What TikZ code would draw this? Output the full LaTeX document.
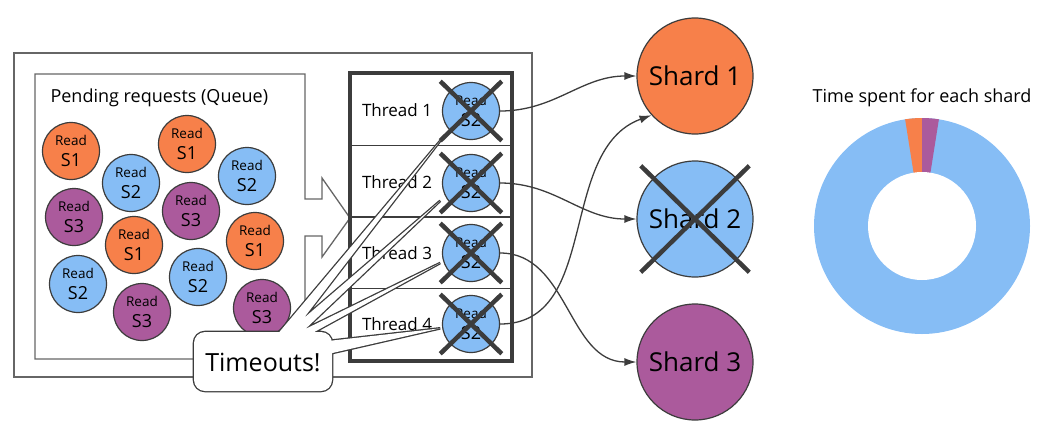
\documentclass[tikz,border=0pt]{standalone}
\usepackage{fontspec}
\setmainfont{Open Sans}
\usetikzlibrary{arrows.meta}
\usetikzlibrary{shapes.misc}
\usetikzlibrary{positioning}

\definecolor{sorange}{HTML}{F7804A}
\definecolor{sblue}{HTML}{86BDF5}
\definecolor{spurple}{HTML}{AB5A9C}
\definecolor{lgray}{HTML}{3C3C3C}
\definecolor{bgray}{HTML}{666666}

\begin{document}
\begin{tikzpicture}[x=1pt,y=1pt]
	\useasboundingbox (0,0) rectangle (1049,-432);
	
	\tikzstyle{boxline} = [draw=bgray,line width=1.3pt]
	\tikzstyle{rnode} = [circle,draw=lgray,line width=1.2pt,minimum size=57pt,inner sep=0pt,align=center,font=\fontsize{18}{21.6}\selectfont]
	\tikzstyle{snode} = [circle,draw=lgray,line width=1.2pt,minimum size=116pt,inner sep=0pt,font=\fontsize{26}{28}\selectfont]
	\tikzstyle{xmark} = [cross out,draw=lgray,line width=4.5pt,minimum width=57pt,minimum height=55pt,inner sep=0pt]
	\tikzstyle{rowbox} = [rectangle,draw=lgray,line width=1.3pt,minimum width=160pt,minimum height=71.5pt,inner sep=0pt]
	\tikzstyle{tlabel} = [font=\fontsize{17}{20}\selectfont]
	\tikzstyle{sedge} = [->,>={Latex[length=12pt,width=8pt]},draw=lgray,line width=1.3pt]
	\tikzstyle{callout} = [draw=lgray,line width=2.6pt,postaction={fill=white}]
	
	% outer box and queue
	\draw[boxline,fill=white] (14,-53) rectangle (532,-377);
	\draw[boxline,fill=white] (35,-74) -- (305,-74) -- (305,-199) -- (322,-199) -- (322,-178) -- (350,-218)
		-- (322,-257) -- (322,-236) -- (305,-236) -- (305,-359) -- (35,-359) -- cycle;
	\node[tlabel,font=\fontsize{18}{20}\selectfont,anchor=base west] (ql) at (47,-102) {Pending requests (Queue)};
	
	\node[rnode,fill=sorange] (q1) at (71,-151) {{\fontsize{13.5}{14}\selectfont Read}\\S1};
	\node[rnode,fill=sblue] (q2) at (131,-183) {{\fontsize{13.5}{14}\selectfont Read}\\S2};
	\node[rnode,fill=sorange] (q3) at (187,-144) {{\fontsize{13.5}{14}\selectfont Read}\\S1};
	\node[rnode,fill=sblue] (q4) at (247,-176) {{\fontsize{13.5}{14}\selectfont Read}\\S2};
	\node[rnode,fill=spurple] (q5) at (74,-217) {{\fontsize{13.5}{14}\selectfont Read}\\S3};
	\node[rnode,fill=spurple] (q6) at (191,-211) {{\fontsize{13.5}{14}\selectfont Read}\\S3};
	\node[rnode,fill=sorange] (q7) at (134,-245) {{\fontsize{13.5}{14}\selectfont Read}\\S1};
	\node[rnode,fill=sorange] (q8) at (255,-241) {{\fontsize{13.5}{14}\selectfont Read}\\S1};
	\node[rnode,fill=sblue] (q9) at (78,-284) {{\fontsize{13.5}{14}\selectfont Read}\\S2};
	\node[rnode,fill=sblue] (q10) at (198,-277) {{\fontsize{13.5}{14}\selectfont Read}\\S2};
	\node[rnode,fill=spurple] (q11) at (142,-312) {{\fontsize{13.5}{14}\selectfont Read}\\S3};
	\node[rnode,fill=spurple] (q12) at (262,-308) {{\fontsize{13.5}{14}\selectfont Read}\\S3};
	
	% threads
	\node[rowbox] (r1) at (431,-109.75) {};
	\node[rowbox] (r2) at (431,-181.25) {};
	\node[rowbox] (r3) at (431,-252.75) {};
	\node[rowbox] (r4) at (431,-324.25) {};
	\draw[draw=lgray,line width=4pt] (r1.north west) rectangle (r4.south east);
	
	\node[tlabel] (l1) at (397,-110) {Thread 1};
	\node[tlabel] (l2) at (397,-182) {Thread 2};
	\node[tlabel] (l3) at (397,-253) {Thread 3};
	\node[tlabel] (l4) at (397,-324) {Thread 4};
	
	\node[rnode,fill=sblue] (t1) at (471,-111) {{\fontsize{13.5}{14}\selectfont Read}\\S2};
	\node[rnode,fill=sblue] (t2) at (471,-183) {{\fontsize{13.5}{14}\selectfont Read}\\S2};
	\node[rnode,fill=sblue] (t3) at (471,-253) {{\fontsize{13.5}{14}\selectfont Read}\\S2};
	\node[rnode,fill=sblue] (t4) at (471,-324) {{\fontsize{13.5}{14}\selectfont Read}\\S2};
	
	% shards
	\node[snode,fill=sorange] (s1) at (695,-76) {Shard 1};
	\node[snode,fill=sblue] (s2) at (695,-219) {Shard 2};
	\node[snode,fill=spurple] (s3) at (695,-362) {Shard 3};
	
	\draw (t1) edge [sedge,out=0,in=180] (s1);
	\draw (t2) edge [sedge,out=0,in=180] (s2);
	\draw (t3) edge [sedge,out=0,in=180] (s3);
	\draw (t4) edge [sedge,out=0,in=200] (s1.222);
	
	% crosses
	\node[xmark] (x1) at (t1) {};
	\node[xmark] (x2) at (t2) {};
	\node[xmark] (x3) at (t3) {};
	\node[xmark] (x4) at (t4) {};
	\node[xmark,minimum width=104pt,minimum height=102pt] (xs2) at (s2) {};
	
	% callout
	\draw[callout] [rounded corners=11pt] (194,-332) -- (332,-332) -- (332,-391) -- (194,-391) -- cycle
		[sharp corners] (276,-336) -- (x1.south west) -- (290,-336) -- cycle
		(283,-336) -- (x2.-150) -- (298,-336) -- cycle
		(291,-336) -- (x3.-162) -- (307,-336) -- cycle
		(328,-341) -- (x4.-172) -- (328,-354) -- cycle;
	\node[font=\fontsize{25}{28}\selectfont] (bub) at (263,-362) {Timeouts!};
	
	% chart
	\coordinate (dc) at (922,-226);
	\fill[sblue] (dc) circle (108);
	\fill[sorange] (dc) -- ++(90:108) arc[start angle=90,end angle=99,radius=108] -- cycle;
	\fill[spurple] (dc) -- ++(81:108) arc[start angle=81,end angle=90,radius=108] -- cycle;
	\fill[white] (dc) circle (54);
	\node[tlabel,font=\fontsize{18}{20}\selectfont,anchor=base] (dt) at (922,-102) {Time spent for each shard};
	
\end{tikzpicture}
\end{document}
